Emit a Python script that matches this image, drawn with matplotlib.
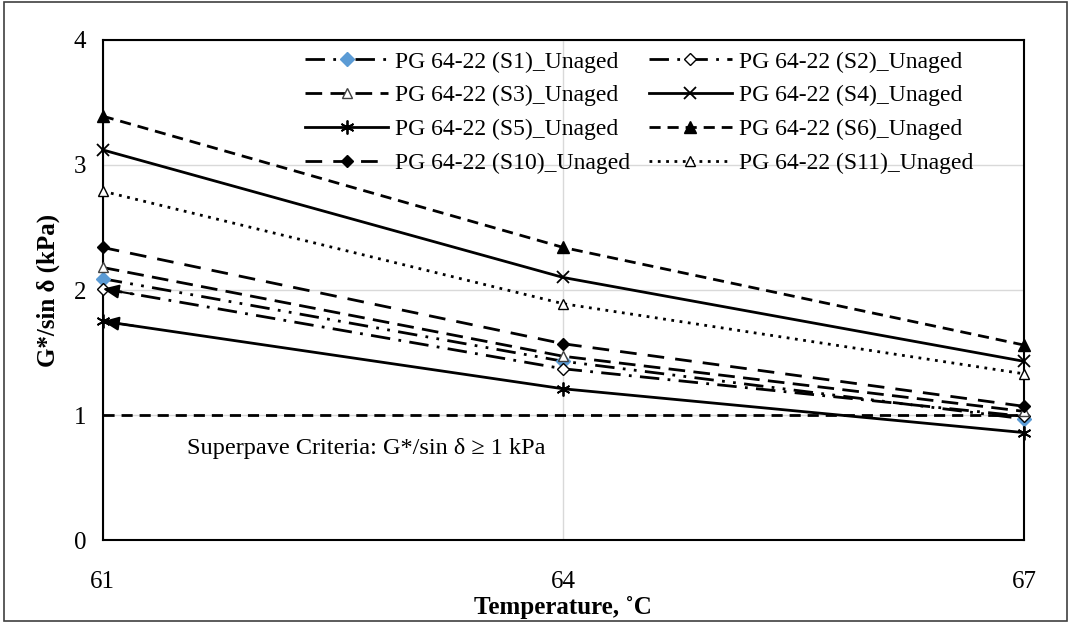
import matplotlib
matplotlib.use("Agg")
import matplotlib.pyplot as plt
from matplotlib.patches import Rectangle

# data
temps = [61, 64, 67]
labels = ["PG 64-22 (S1)_Unaged", "PG 64-22 (S2)_Unaged",
          "PG 64-22 (S3)_Unaged", "PG 64-22 (S4)_Unaged",
          "PG 64-22 (S5)_Unaged", "PG 64-22 (S6)_Unaged",
          "PG 64-22 (S10)_Unaged", "PG 64-22 (S11)_Unaged"]
s1 = [2.09, 1.43, 0.97]
s2 = [2.01, 1.37, 0.99]
s3 = [2.18, 1.47, 1.03]
s4 = [3.12, 2.10, 1.43]
s5 = [1.75, 1.21, 0.86]
s6 = [3.39, 2.34, 1.56]
s10 = [2.34, 1.57, 1.07]
s11 = [2.79, 1.89, 1.33]
criteria = 1.0

plt.rcParams["font.family"] = ["Liberation Serif", "DejaVu Serif"]

fig = plt.figure(figsize=(10.71, 6.23), dpi=100)
ax = fig.add_axes([0.096, 0.133, 0.86, 0.803])

lw = 2.0
styles = [
    (s1, dict(ls=(0, (7, 3, 1, 3, 1, 3)), marker="D", mfc="#5B9BD5", mec="#5B9BD5", ms=7)),
    (s2, dict(ls=(0, (7, 3, 1, 3)), marker="D", mfc="white", mec="black", ms=6)),
    (s3, dict(ls=(0, (6, 3)), marker="^", mfc="white", mec="#404040", ms=7)),
    (s4, dict(ls="-", marker="x", mfc="black", mec="black", ms=9, mew=1.3)),
    (s5, dict(ls="-", marker=(6, 2, 0), mfc="black", mec="black", ms=10, mew=1.3)),
    (s6, dict(ls=(0, (4, 2.5)), marker="^", mfc="black", mec="black", ms=8)),
    (s10, dict(ls=(0, (6, 4)), marker="D", mfc="black", mec="black", ms=6)),
    (s11, dict(ls=(0, (1, 2)), marker="^", mfc="white", mec="black", ms=7)),
]

handles = []
for (vals, st), lab in zip(styles, labels):
    h, = ax.plot(temps, vals, color="black", lw=lw, label=lab, clip_on=False, zorder=3, **st)
    handles.append(h)

# arrow heads at the start of S2 and S5
for vals in (s2, s5):
    dx = 0.2
    dy = (vals[1] - vals[0]) / (temps[1] - temps[0]) * dx
    ax.annotate("", xy=(temps[0], vals[0]), xytext=(temps[0] + dx, vals[0] + dy),
                arrowprops=dict(arrowstyle="-|>,head_length=0.8,head_width=0.35",
                                color="black", lw=1.5, mutation_scale=12,
                                shrinkA=0, shrinkB=0), annotation_clip=False)

ax.plot([temps[0], temps[-1]], [criteria, criteria], color="black", lw=2,
        ls=(0, (4, 2.5)))
ax.text(61.55, 0.73, "Superpave Criteria: G*/sin \u03b4 \u2265 1 kPa",
        fontsize=17.5, va="center", ha="left")

ax.set_xlim(61, 67)
ax.set_ylim(0, 4)
ax.set_xticks(temps)
ax.set_yticks([0, 1, 2, 3, 4])
ax.grid(True, color="#d9d9d9", lw=1)
ax.set_axisbelow(True)
ax.tick_params(length=0, labelsize=18)
ax.tick_params(axis="x", pad=22)
ax.tick_params(axis="y", pad=12)
for sp in ax.spines.values():
    sp.set_linewidth(1.5)
    sp.set_color("black")

ax.set_xlabel("Temperature, \u02daC", fontsize=18, fontweight="bold", labelpad=2)
ax.set_ylabel("G*/sin \u03b4 (kPa)", fontsize=18, fontweight="bold", labelpad=10)

# legend filled row by row like the original
order = [0, 2, 4, 6, 1, 3, 5, 7]
ax.legend([handles[i] for i in order], [labels[i] for i in order],
          loc="upper left", bbox_to_anchor=(0.285, 0.918), bbox_transform=fig.transFigure,
          ncol=2, frameon=False, fontsize=17, handlelength=3.5, columnspacing=0.8,
          labelspacing=0.52, handletextpad=0.3, borderaxespad=0, borderpad=0)

fig.patches.append(Rectangle((0.004, 0.004), 0.992, 0.992, transform=fig.transFigure,
                             fill=False, edgecolor="#404040", lw=1.2))

fig.savefig("out.png", dpi=100)
